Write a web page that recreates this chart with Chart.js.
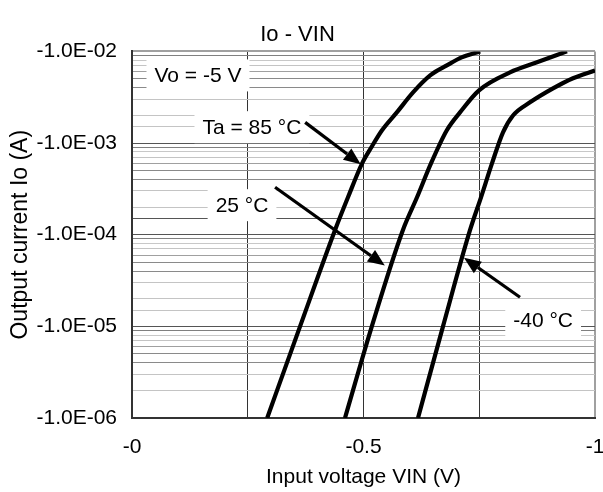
<!DOCTYPE html>
<html><head><meta charset="utf-8">
<script src="https://cdn.jsdelivr.net/npm/chart.js@4"></script>
<style>html,body{margin:0;padding:0;background:#fff}#wrap{width:603px;height:492px;position:relative}</style>
</head><body><div id="wrap"><canvas id="c"></canvas></div>
<script>
// Input voltage VIN (V) and output current Io (A)
const vin85 = [-0.292, -0.363, -0.4384, -0.4665, -0.497, -0.517, -0.540, -0.572, -0.607, -0.644, -0.680, -0.712, -0.752];
const io85  = [-1.0e-6, -1.0e-5, -1.12e-4, -2.56e-4, -6.0e-4, -9.0e-4, -1.38e-3, -2.16e-3, -3.57e-3, -5.47e-3, -7.03e-3, -8.6e-3, -1.0e-2];
const vin25 = [-0.460, -0.518, -0.585, -0.6156, -0.6458, -0.680, -0.7084, -0.7495, -0.8164, -0.8747, -0.9395];
const io25  = [-1.0e-6, -1.0e-5, -1.12e-4, -2.56e-4, -6.0e-4, -1.38e-3, -2.16e-3, -3.76e-3, -5.9e-3, -7.6e-3, -1.0e-2];
const vinM40 = [-0.6177, -0.6717, -0.730, -0.7538, -0.7775, -0.8013, -0.8229, -0.8596, -0.9093, -0.9525, -1.0];
const ioM40  = [-1.0e-6, -1.0e-5, -1.12e-4, -2.56e-4, -6.0e-4, -1.31e-3, -2.0e-3, -2.78e-3, -3.95e-3, -5.1e-3, -6.2e-3];

const xTickLabels = [0, -0.5, -1];
const yTickLabels = [-1e-2, -1e-3, -1e-4, -1e-5, -1e-6];

const titleText = 'Io - VIN';
const xTitle = 'Input voltage VIN (V)';
const yTitle = 'Output current Io (A)';

const notes = [
  {text: 'Vo = -5 V', x: -0.1425, y: -5.47e-3},
  {text: 'Ta = 85 °C', x: -0.259, y: -1.49e-3},
  {text: '25 °C', x: -0.2376, y: -2.1e-4},
  {text: '-40 °C', x: -0.888, y: -1.17e-5}
];
const arrows = [
  {from: [-0.374, -1.68e-3], to: [-0.494, -5.86e-4]},
  {from: [-0.309, -3.3e-4], to: [-0.546, -4.6e-5]},
  {from: [-0.838, -2.08e-5], to: [-0.717, -5.6e-5]}
];

const FONT = '"Liberation Sans", Arial, sans-serif';
const mk = (vs, is) => vs.map((v, i) => ({x: v, y: Math.abs(is[i])}));

function sig(v) {
  const e = Math.floor(Math.log10(v) + 1e-9);
  return {m: Math.round(v / Math.pow(10, e)), e};
}

const annot = {
  id: 'annot',
  beforeDatasetsDraw(chart) {
    const {ctx, scales: {x, y}} = chart;
    ctx.save();
    ctx.font = '21px ' + FONT;
    ctx.textAlign = 'center';
    ctx.textBaseline = 'middle';
    notes.forEach(n => {
      const px = x.getPixelForValue(n.x), py = y.getPixelForValue(Math.abs(n.y));
      const w = ctx.measureText(n.text).width + 16, h = 32;
      ctx.fillStyle = '#fff';
      ctx.fillRect(px - w / 2, py - h / 2, w, h);
      ctx.fillStyle = '#000';
      ctx.fillText(n.text, px, py + 1);
    });
    ctx.restore();
  },
  afterDatasetsDraw(chart) {
    const {ctx, scales: {x, y}} = chart;
    ctx.save();
    ctx.strokeStyle = '#000';
    ctx.fillStyle = '#000';
    ctx.lineWidth = 3.2;
    arrows.forEach(a => {
      const x0 = x.getPixelForValue(a.from[0]), y0 = y.getPixelForValue(Math.abs(a.from[1]));
      const x1 = x.getPixelForValue(a.to[0]), y1 = y.getPixelForValue(Math.abs(a.to[1]));
      const ang = Math.atan2(y1 - y0, x1 - x0);
      const hl = 17, hw = 7;
      const bx = x1 - hl * Math.cos(ang), by = y1 - hl * Math.sin(ang);
      ctx.beginPath();
      ctx.moveTo(x0, y0);
      ctx.lineTo(bx, by);
      ctx.stroke();
      ctx.beginPath();
      ctx.moveTo(x1, y1);
      ctx.lineTo(bx + hw * Math.sin(ang), by - hw * Math.cos(ang));
      ctx.lineTo(bx - hw * Math.sin(ang), by + hw * Math.cos(ang));
      ctx.closePath();
      ctx.fill();
    });
    ctx.restore();
  }
};

const minorColors = {2: '#c4c4c4', 3: '#c4c4c4', 4: '#8a8a8a', 5: '#8a8a8a', 6: '#a0a0a0', 7: '#c4c4c4', 8: '#c8c8c8', 9: '#808080'};

const ds = (data) => ({data, borderColor: '#000', borderWidth: 4.2, pointRadius: 0, fill: false,
  cubicInterpolationMode: 'monotone', borderCapStyle: 'butt', borderJoinStyle: 'round'});

new Chart(document.getElementById('c'), {
  type: 'line',
  data: {datasets: [ds(mk(vin85, io85)), ds(mk(vin25, io25)), ds(mk(vinM40, ioM40))]},
  options: {
    responsive: true,
    maintainAspectRatio: false,
    animation: false,
    layout: {padding: {left: 0, right: 8, top: 0, bottom: 0}},
    plugins: {
      legend: {display: false},
      tooltip: {enabled: false},
      title: {display: true, text: titleText, color: '#000', font: {family: FONT, size: 22, weight: 'normal'},
        padding: {top: 22, bottom: 3}}
    },
    scales: {
      x: {
        type: 'linear', min: -1, max: 0, reverse: true,
        afterFit: s => { s.height = 74; s.paddingLeft = 0; s.paddingRight = 0; },
        ticks: {stepSize: 0.25, autoSkip: false, color: '#000', padding: 17, maxRotation: 0,
          font: {family: FONT, size: 21},
          callback: v => {
            const hit = xTickLabels.find(t => Math.abs(t - v) < 1e-9);
            if (hit === undefined) return '';
            return hit === 0 ? '-0' : String(hit);
          }},
        grid: {drawTicks: false,
          color: c => { const v = c.tick.value; if (Math.abs(v) < 1e-9) return 'rgba(0,0,0,0)'; if (Math.abs(v + 1) < 1e-9) return '#a0a0a0'; return '#333'; },
          lineWidth: c => Math.abs(c.tick.value + 1) < 1e-9 ? 2 : 1},
        border: {display: true, color: '#333', width: 2},
        title: {display: true, text: xTitle, color: '#000', font: {family: FONT, size: 21}, padding: {top: 0, bottom: 2}}
      },
      y: {
        type: 'logarithmic', min: 1e-6, max: 1e-2,
        afterFit: s => { s.width = 132; s.paddingTop = 0; s.paddingBottom = 0; },
        ticks: {autoSkip: false, color: '#000', padding: 15, font: {family: FONT, size: 21},
          callback: v => {
            const hit = yTickLabels.find(t => Math.abs(Math.abs(t) - v) / v < 1e-6);
            if (hit === undefined) return '';
            const e = Math.round(Math.log10(Math.abs(hit)));
            return '-1.0E-' + String(-e).padStart(2, '0');
          }},
        grid: {drawTicks: false,
          color: c => { const {m, e} = sig(c.tick.value); if (m === 1) return e === -2 ? '#a0a0a0' : '#555'; return minorColors[m] || '#bbb'; },
          lineWidth: c => { const {m, e} = sig(c.tick.value); return (m === 1 && e === -2) ? 2 : 1; }},
        border: {display: true, color: '#333', width: 2},
        title: {display: true, text: yTitle, color: '#000', font: {family: FONT, size: 23}, padding: {top: 7, bottom: 0}}
      }
    }
  },
  plugins: [annot]
});
</script>
</body></html>
